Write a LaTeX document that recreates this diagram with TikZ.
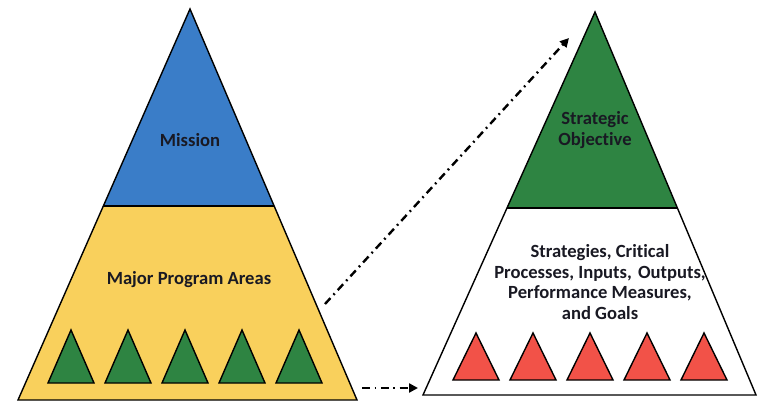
\documentclass[tikz,border=0pt]{standalone}
\usepackage{fontspec}
\setmainfont[Ligatures=NoCommon]{Carlito}
\usetikzlibrary{calc,arrows.meta}
\definecolor{mblue}{RGB}{58,125,200}
\definecolor{myellow}{RGB}{249,208,92}
\definecolor{mgreen}{RGB}{46,132,66}
\definecolor{mred}{RGB}{242,82,72}
\definecolor{mtext}{RGB}{25,25,35}
\tikzset{
  outline/.style={draw=black,line width=1.4pt,line join=miter},
  lbl/.style={font=\fontsize{18.6}{20.5}\selectfont\bfseries,text=mtext,align=center,inner sep=0pt},
  dashdotarrow/.style={line width=2.4pt,dash pattern=on 8pt off 4.5pt on 1.8pt off 4.5pt,-{Triangle[length=9pt,width=9pt]}}
}
\begin{document}
\begin{tikzpicture}[x=1pt,y=-1pt]
\useasboundingbox (0,0) rectangle (759,406);
% left pyramid
\coordinate (LA) at (190,9);
\coordinate (LL) at (18,400);
\coordinate (LR) at (357,400);
\coordinate (LS1) at ($(LA)!0.5038!(LL)$);
\coordinate (LS2) at ($(LA)!0.5038!(LR)$);
\fill[mblue] (LA) -- (LS2) -- (LS1) -- cycle;
\fill[myellow] (LS1) -- (LS2) -- (LR) -- (LL) -- cycle;
\draw[outline] (LA) -- (LR) -- (LL) -- cycle;
\draw[outline] (LS1) -- (LS2);
\node[lbl] (mission) at (190,140) {Mission};
\node[lbl] (mpa) at (189,280) {Major Program Areas};
\foreach \i/\cx in {1/71,2/128,3/185,4/242,5/299}{
  \draw[outline,fill=mgreen] (\cx,330) -- (\cx+23,383) -- (\cx-23,383) -- cycle;
}
% right pyramid
\coordinate (RA) at (595,12);
\coordinate (RL) at (423,395);
\coordinate (RR) at (756,395);
\coordinate (RS1) at ($(RA)!0.5117!(RL)$);
\coordinate (RS2) at ($(RA)!0.5117!(RR)$);
\fill[mgreen] (RA) -- (RS2) -- (RS1) -- cycle;
\fill[white] (RS1) -- (RS2) -- (RR) -- (RL) -- cycle;
\draw[outline] (RA) -- (RR) -- (RL) -- cycle;
\draw[outline] (RS1) -- (RS2);
\node[lbl] (so) at (595,130) {Strategic\\Objective};
\node[lbl] (spp) at (600,282) {Strategies, Critical\\Processes, Inputs,\hspace{2pt} Outputs,\\Performance Measures,\\and Goals};
\foreach \i/\cx in {1/476,2/533,3/590,4/647,5/704}{
  \draw[outline,fill=mred] (\cx,333) -- (\cx+23,380) -- (\cx-23,380) -- cycle;
}
% connectors
\coordinate (t0) at (325,304);
\coordinate (t1) at (569,38);
\coordinate (b0) at (362,388);
\coordinate (b1) at (418,388);
\draw[dashdotarrow] (t0) -- (t1);
\draw[dashdotarrow] (b0) -- (b1);
\end{tikzpicture}
\end{document}
